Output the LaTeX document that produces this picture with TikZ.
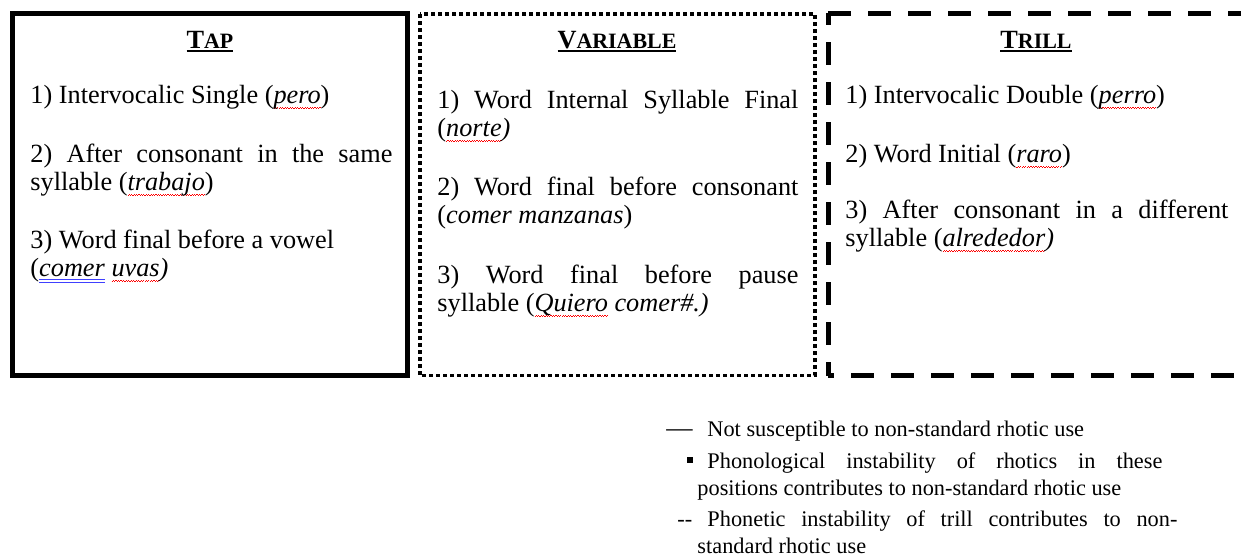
\documentclass[tikz,border=0pt]{standalone}
\usepackage{fontspec}
\setmainfont{Liberation Serif}

\newlength{\pxu}
\setlength{\pxu}{0.4565pt}

% spell-check and grammar-check marks under words
\newcommand{\spellmark}[1]{\setbox0=\hbox{#1}\leavevmode\rlap{\textcolor{red}{\lower2.4pt\hbox to\wd0{\xleaders\hbox{\rule{0.55pt}{0.3pt}\raise0.45pt\hbox{\rule{0.55pt}{0.3pt}}}\hfil}}}\box0\relax}
\newcommand{\grammark}[1]{\setbox0=\hbox{#1}\leavevmode\rlap{\textcolor{blue!75}{\lower2.8pt\hbox{\vbox{\hrule width\wd0 height0.35pt\kern0.8pt\hrule width\wd0 height0.35pt}}}}\box0\relax}
% underlined small-caps heading
\newcommand{\headline}[2]{\setbox0=\hbox{#1{\fontsize{10}{12}\selectfont #2}}\leavevmode\rlap{\lower1.8pt\hbox{\vrule width\wd0 height0.8pt depth0pt}}\box0\relax}

\tikzset{
  tapbox/.style={line width=5\pxu},
  varbox/.style={line width=3.7\pxu, dash pattern=on 3.8\pxu off 3.2\pxu},
  trillside/.style={line width=5\pxu, dash pattern=on 23\pxu off 17\pxu},
  head/.style={anchor=base, inner sep=0pt, font=\bfseries\fontsize{12}{14}\selectfont},
  item/.style={anchor=base west, inner sep=0pt, align=justify,
    font=\fontsize{12}{13}\selectfont,
    execute at begin node={\tolerance=9999 \hyphenpenalty=10000}},
  legendtext/.style={anchor=base west, inner sep=0pt, align=justify,
    font=\fontsize{10.2}{12.6}\selectfont,
    execute at begin node={\tolerance=9999 \hyphenpenalty=10000}}
}

\begin{document}
\begin{tikzpicture}[x=\pxu, y=-\pxu]
        \useasboundingbox (0,0) rectangle (1241,559);
        \clip (0,0) rectangle (1241,559);

        % Box for Tap
        \draw[tapbox] (12.5,13.5) rectangle (407.5,375);
        \node[head] (tapHead) at (210,48) {\headline{T}{AP}};
        \node[item, text width=362\pxu] (tapA) at (30,103) {1) Intervocalic Single (\spellmark{\textit{pero}})};
        \node[item, text width=362\pxu] (tapB) at (30,162) {2) After consonant in the same syllable (\spellmark{\textit{trabajo}})};
        \node[item, text width=362\pxu] (tapC) at (30,248) {3) Word final before a vowel\\(\grammark{\textit{comer}} \spellmark{\textit{uvas}}\textit{)}};

        % Box for Variable
        \draw[varbox] (420,14) rectangle (815,375.5);
        \node[head] (varHead) at (617,48) {\headline{V}{ARIABLE}};
        \node[item, text width=361\pxu] (varA) at (437,108) {1) Word Internal Syllable Final (\spellmark{\textit{norte}}\textit{)}};
        \node[item, text width=361\pxu] (varB) at (437,195) {2) Word final before consonant (\textit{comer manzanas})};
        \node[item, text width=361\pxu] (varC) at (437,283) {3) Word final before pause\linebreak syllable (\spellmark{\textit{Quiero}} \textit{comer\#.)}};

        % Box for Trill (open to the right edge)
        \draw[trillside] (828,13) -- (1250,13);
        \draw[trillside, dash phase=11\pxu] (828,13) -- (828,375.5);
        \draw[trillside, dash phase=17\pxu] (828,375.5) -- (1250,375.5);
        \node[head] (trillHead) at (1036,48) {\headline{T}{RILL}};
        \node[item, text width=383\pxu] (trillA) at (845,103) {1) Intervocalic Double (\spellmark{\textit{perro}})};
        \node[item, text width=383\pxu] (trillB) at (845,162) {2) Word Initial (\spellmark{\textit{raro}})};
        \node[item, text width=383\pxu] (trillC) at (845,218) {3) After consonant in a different syllable (\spellmark{\textit{alrededor}}\textit{)}};

        % Legend
        \node[anchor=base west, inner sep=0pt, font=\fontsize{12}{14}\selectfont] (solidSign) at (666,436) {—};
        \node[legendtext] (legSolid) at (707,436) {Not susceptible to non-standard rhotic use};
        \node[fill, inner sep=0pt, minimum size=6\pxu] (dotSign) at (690,459.5) {};
        \node[legendtext, text width=465\pxu] (legDot) at (697,468) {\hspace*{10\pxu}Phonological instability of rhotics in these\linebreak positions contributes to non-standard rhotic use};
        \node[anchor=base west, inner sep=0pt, font=\fontsize{10.2}{12}\selectfont] (dashSign) at (677,526) {-\kern0pt-};
        \node[legendtext, text width=480\pxu] (legDash) at (697,526) {\hspace*{10\pxu}Phonetic instability of trill contributes to non-standard rhotic use};
    \end{tikzpicture}
\end{document}
